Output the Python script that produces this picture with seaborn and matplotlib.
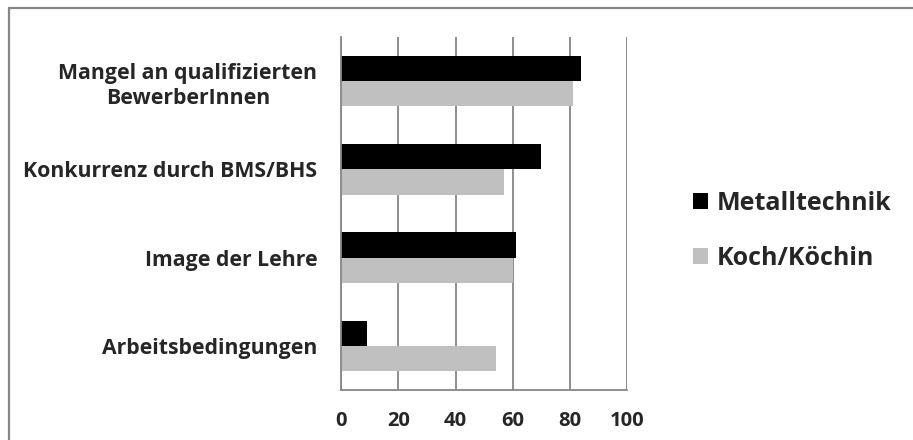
import matplotlib
matplotlib.use("Agg")
import matplotlib.pyplot as plt
import seaborn as sns
import pandas as pd
import numpy as np
from matplotlib.patches import Rectangle
from matplotlib.lines import Line2D

categories = ["Mangel an qualifizierten\nBewerberInnen", "Konkurrenz durch BMS/BHS",
              "Image der Lehre", "Arbeitsbedingungen"]
metalltechnik = [84, 70, 61, 9]
koch = [81, 57, 60, 54]
series_names = ["Metalltechnik", "Koch/Köchin"]
x_ticks = [0, 20, 40, 60, 80, 100]

df = pd.DataFrame({
    "Kategorie": categories * 2,
    "Wert": metalltechnik + koch,
    "Beruf": [series_names[0]] * 4 + [series_names[1]] * 4,
})

sns.set_style("white")
plt.rcParams["font.family"] = ["Open Sans", "DejaVu Sans"]
plt.rcParams["font.weight"] = "bold"

W, H = 913, 440
grid_col = "#868686"
fig = plt.figure(figsize=(W / 100, H / 100), dpi=100)
ax = fig.add_axes([341 / W, 1 - 390 / H, (627.3 - 341) / W, (390 - 37) / H])

sns.barplot(data=df, y="Kategorie", x="Wert", hue="Beruf", order=categories,
            hue_order=series_names, palette=["#000000", "#C0C0C0"],
            orient="h", width=0.57, ax=ax, legend=False, saturation=1,
            edgecolor="none", linewidth=0)

ax.set_xlim(0, 100)
ax.set_ylim(3.5, -0.5)
ax.set_xticks(x_ticks)
ax.set_xticklabels([str(t) for t in x_ticks], fontsize=14.5, fontweight="bold")
ax.set_yticks(range(len(categories)))
ax.set_yticklabels(categories, fontsize=15.3, fontweight="bold",
                   multialignment="center", linespacing=1.25)
ax.set_xlabel("")
ax.set_ylabel("")

# vertical gridlines
ax.xaxis.grid(True, color=grid_col, linewidth=1.3)
ax.set_axisbelow(True)
for s in ["top", "right"]:
    ax.spines[s].set_visible(False)
for s in ["left", "bottom"]:
    ax.spines[s].set_color(grid_col)
    ax.spines[s].set_linewidth(1.3)

ax.tick_params(axis="y", which="major", length=0, pad=17)
ax.set_yticks(np.arange(-0.5, 4.0, 1.0), minor=True)
ax.tick_params(axis="y", which="minor", length=3.6, color=grid_col, width=1.3, direction="out")
ax.tick_params(axis="x", which="major", length=3, color=grid_col, width=1.3,
               direction="out", pad=12)

# legend with square markers
handles = [Rectangle((0, 0), 1, 1, facecolor=c, edgecolor="none")
           for c in ["#000000", "#C0C0C0"]]
fig.legend(handles, series_names, loc="center left",
           bbox_to_anchor=(693 / W, 1 - 231 / H), frameon=False,
           prop={"size": 18, "weight": "bold"}, handlelength=0.6,
           handleheight=0.6, handletextpad=0.35, labelspacing=1.2,
           borderpad=0, borderaxespad=0)

# chart frame (left and top edges visible)
fig.add_artist(Line2D([9 / W, 9 / W], [0, 1 - 8 / H], transform=fig.transFigure,
                      color=grid_col, linewidth=1.6))
fig.add_artist(Line2D([9 / W, 1], [1 - 8 / H, 1 - 8 / H], transform=fig.transFigure,
                      color=grid_col, linewidth=1.6))

fig.savefig("out.png", dpi=100)
